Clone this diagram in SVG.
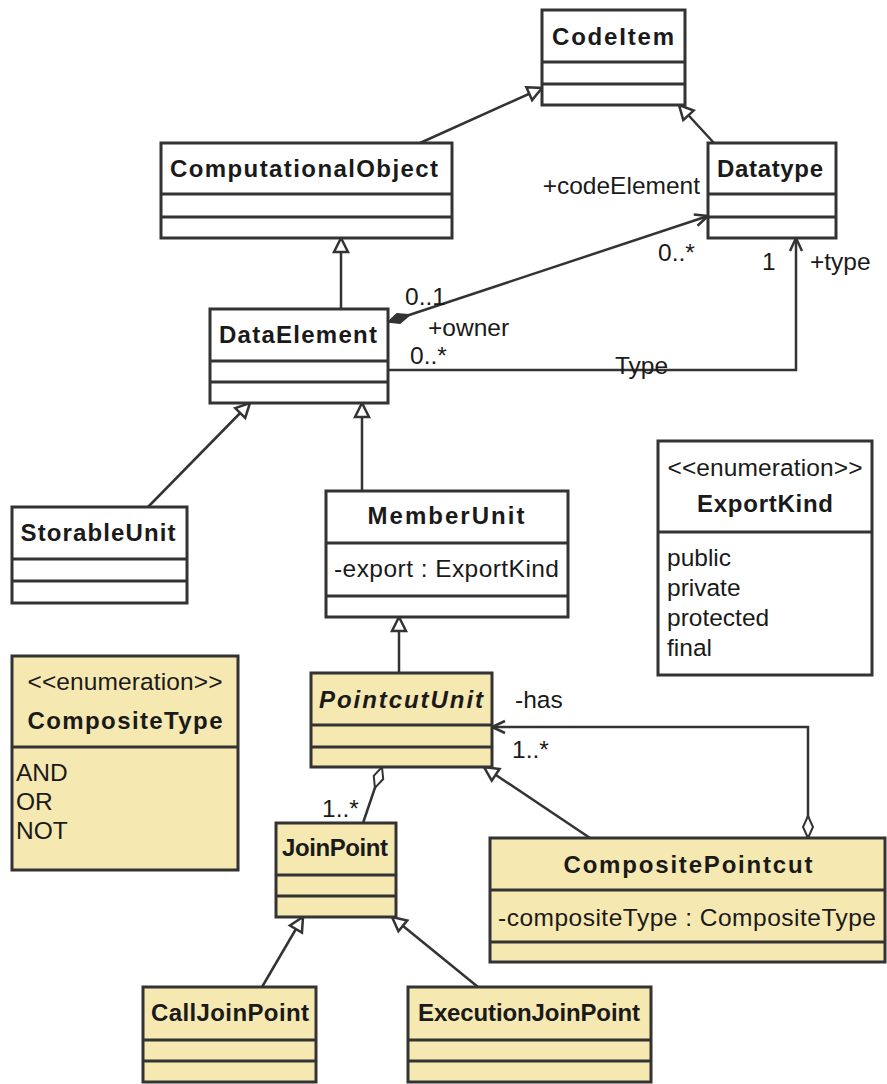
<svg xmlns="http://www.w3.org/2000/svg" width="887" height="1084" viewBox="0 0 887 1084">
<style>
.box{fill:#ffffff;stroke:#333333;stroke-width:3}
.yb{fill:#f6e8b1;stroke:#333333;stroke-width:3}
.sep{stroke:#333333;stroke-width:3}
.cn{font-family:"Liberation Sans",Arial,sans-serif;font-weight:bold;font-size:24px;text-anchor:middle;fill:#1a1a1a}
.tx{font-family:"Liberation Sans",Arial,sans-serif;font-size:24.5px;fill:#1a1a1a}
.ln{fill:none;stroke:#333333;stroke-width:2.5}
</style>
<defs>
<marker id="gen" markerUnits="userSpaceOnUse" markerWidth="18" markerHeight="18" refX="15" refY="8" orient="auto" overflow="visible">
<path d="M1,1 L15,8 L1,15 Z" fill="#ffffff" stroke="#333333" stroke-width="2.5"/>
</marker>
<marker id="arr" markerUnits="userSpaceOnUse" markerWidth="16" markerHeight="16" refX="14" refY="7" orient="auto" overflow="visible">
<path d="M1,1 L14,7 L1,13" fill="none" stroke="#333333" stroke-width="2.5"/>
</marker>
<marker id="fdia" markerUnits="userSpaceOnUse" markerWidth="26" markerHeight="14" refX="0" refY="6" orient="auto" overflow="visible">
<path d="M0,6 L11,1 L23,6 L11,11 Z" fill="#333333" stroke="#333333" stroke-width="1.5"/>
</marker>
<marker id="hdia" markerUnits="userSpaceOnUse" markerWidth="26" markerHeight="14" refX="0" refY="6" orient="auto" overflow="visible">
<path d="M0,6 L11,1 L22,6 L11,11 Z" fill="#ffffff" stroke="#333333" stroke-width="2"/>
</marker>
</defs>

<g id="connectors">
<path class="ln" d="M420,143 L542,88" marker-end="url(#gen)"/>
<path class="ln" d="M714,143 L679,105" marker-end="url(#gen)"/>
<path class="ln" d="M341,309 L341,238" marker-end="url(#gen)"/>
<path class="ln" d="M148,507 L250,403" marker-end="url(#gen)"/>
<path class="ln" d="M362,491 L362,403" marker-end="url(#gen)"/>
<path class="ln" d="M399,673 L399,617" marker-end="url(#gen)"/>
<path class="ln" d="M590,838 L484,767" marker-end="url(#gen)"/>
<path class="ln" d="M262,987 L303,917" marker-end="url(#gen)"/>
<path class="ln" d="M478,987 L392,917" marker-end="url(#gen)"/>
<path class="ln" d="M388,322 L708,216" marker-start="url(#fdia)" marker-end="url(#arr)"/>
<path class="ln" d="M388,370 L796,370 L796,238" marker-end="url(#arr)"/>
<path class="ln" d="M808,838 L808,727 L492,727" marker-start="url(#hdia)" marker-end="url(#arr)"/>
<path class="ln" d="M382,767 L363,823" marker-start="url(#hdia)"/>
<text class="tx" x="700" y="194" text-anchor="end">+codeElement</text>
<text class="tx" x="658" y="261">0..*</text>
<text class="tx" x="405" y="305">0..1</text>
<text class="tx" x="428" y="336">+owner</text>
<text class="tx" x="410" y="364">0..*</text>
<text class="tx" x="615" y="374">Type</text>
<text class="tx" x="762" y="270">1</text>
<text class="tx" x="810" y="270">+type</text>
<text class="tx" x="515" y="708">-has</text>
<text class="tx" x="512" y="758">1..*</text>
<text class="tx" x="322" y="817">1..*</text>
</g>

<g id="CodeItem">
<rect class="box" x="542" y="10" width="143" height="95"/>
<line class="sep" x1="542" y1="62" x2="685" y2="62"/>
<line class="sep" x1="542" y1="84" x2="685" y2="84"/>
<text class="cn" x="613" y="45" textLength="122" lengthAdjust="spacing">CodeItem</text>
</g>

<g id="ComputationalObject">
<rect class="box" x="161" y="143" width="291" height="95"/>
<line class="sep" x1="161" y1="194" x2="452" y2="194"/>
<line class="sep" x1="161" y1="217" x2="452" y2="217"/>
<text class="cn" x="304" y="177" textLength="268" lengthAdjust="spacing">ComputationalObject</text>
</g>

<g id="Datatype">
<rect class="box" x="708" y="143" width="128" height="95"/>
<line class="sep" x1="708" y1="194" x2="836" y2="194"/>
<line class="sep" x1="708" y1="217" x2="836" y2="217"/>
<text class="cn" x="770" y="177" textLength="106" lengthAdjust="spacing">Datatype</text>
</g>

<g id="DataElement">
<rect class="box" x="210" y="309" width="178" height="94"/>
<line class="sep" x1="210" y1="361" x2="388" y2="361"/>
<line class="sep" x1="210" y1="382" x2="388" y2="382"/>
<text class="cn" x="298" y="343" textLength="158" lengthAdjust="spacing">DataElement</text>
</g>

<g id="StorableUnit">
<rect class="box" x="12" y="507" width="175" height="96"/>
<line class="sep" x1="12" y1="559" x2="187" y2="559"/>
<line class="sep" x1="12" y1="581" x2="187" y2="581"/>
<text class="cn" x="98" y="541" textLength="155" lengthAdjust="spacing">StorableUnit</text>
</g>

<g id="MemberUnit">
<rect class="box" x="326" y="491" width="242" height="126"/>
<line class="sep" x1="326" y1="543" x2="568" y2="543"/>
<line class="sep" x1="326" y1="596" x2="568" y2="596"/>
<text class="cn" x="446" y="524" textLength="157" lengthAdjust="spacing">MemberUnit</text>
<text class="tx" x="334" y="577" textLength="225" lengthAdjust="spacing">-export : ExportKind</text>
</g>

<g id="ExportKind">
<rect class="box" x="658" y="441" width="214" height="234"/>
<line class="sep" x1="658" y1="532" x2="872" y2="532"/>
<text class="tx" x="765" y="476" text-anchor="middle" textLength="195" lengthAdjust="spacing">&lt;&lt;enumeration&gt;&gt;</text>
<text class="cn" x="765" y="512" textLength="136" lengthAdjust="spacing">ExportKind</text>
<text class="tx" x="667" y="566">public</text>
<text class="tx" x="667" y="596">private</text>
<text class="tx" x="667" y="626">protected</text>
<text class="tx" x="667" y="656">final</text>
</g>

<g id="CompositeType">
<rect class="yb" x="12" y="656" width="226" height="214"/>
<line class="sep" x1="12" y1="747" x2="238" y2="747"/>
<text class="tx" x="125" y="690" text-anchor="middle" textLength="195" lengthAdjust="spacing">&lt;&lt;enumeration&gt;&gt;</text>
<text class="cn" x="125" y="729" textLength="195" lengthAdjust="spacing">CompositeType</text>
<text class="tx" x="16" y="781">AND</text>
<text class="tx" x="16" y="810">OR</text>
<text class="tx" x="16" y="839">NOT</text>
</g>

<g id="PointcutUnit">
<rect class="yb" x="311" y="673" width="181" height="94"/>
<line class="sep" x1="311" y1="725" x2="492" y2="725"/>
<line class="sep" x1="311" y1="747" x2="492" y2="747"/>
<text class="cn" x="401" y="708" font-style="italic" textLength="164" lengthAdjust="spacing">PointcutUnit</text>
</g>

<g id="JoinPoint">
<rect class="yb" x="276" y="823" width="120" height="94"/>
<line class="sep" x1="276" y1="875" x2="396" y2="875"/>
<line class="sep" x1="276" y1="896" x2="396" y2="896"/>
<text class="cn" x="335" y="856" textLength="106" lengthAdjust="spacing">JoinPoint</text>
</g>

<g id="CompositePointcut">
<rect class="yb" x="490" y="838" width="395" height="124"/>
<line class="sep" x1="490" y1="890" x2="885" y2="890"/>
<line class="sep" x1="490" y1="942" x2="885" y2="942"/>
<text class="cn" x="688" y="873" textLength="249" lengthAdjust="spacing">CompositePointcut</text>
<text class="tx" x="498" y="926" textLength="378" lengthAdjust="spacing">-compositeType : CompositeType</text>
</g>

<g id="CallJoinPoint">
<rect class="yb" x="143" y="987" width="173" height="95"/>
<line class="sep" x1="143" y1="1040" x2="316" y2="1040"/>
<line class="sep" x1="143" y1="1061" x2="316" y2="1061"/>
<text class="cn" x="230" y="1021" textLength="158" lengthAdjust="spacing">CallJoinPoint</text>
</g>

<g id="ExecutionJoinPoint">
<rect class="yb" x="408" y="987" width="243" height="95"/>
<line class="sep" x1="408" y1="1040" x2="651" y2="1040"/>
<line class="sep" x1="408" y1="1061" x2="651" y2="1061"/>
<text class="cn" x="529" y="1021" textLength="222" lengthAdjust="spacing">ExecutionJoinPoint</text>
</g>
</svg>
